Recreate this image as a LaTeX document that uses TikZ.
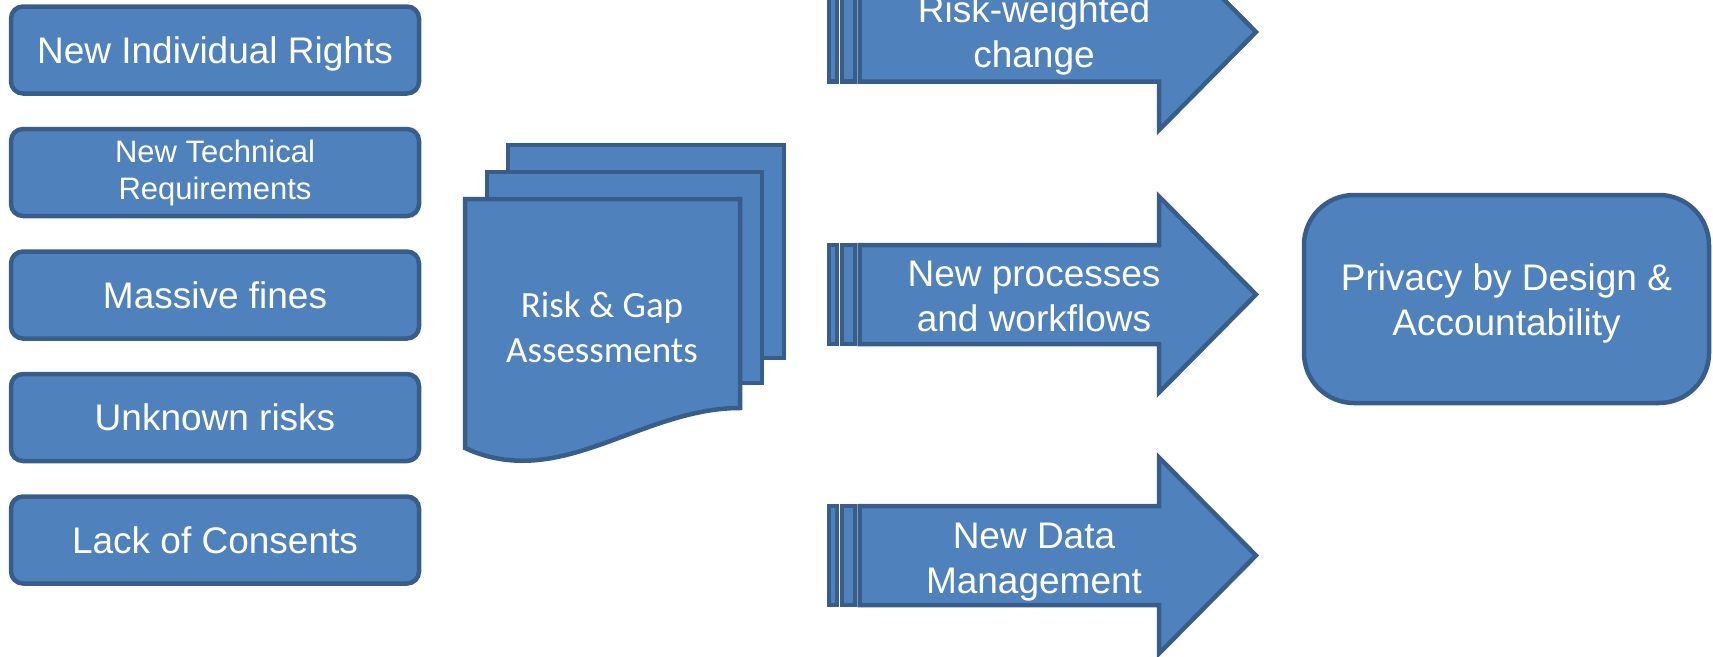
\documentclass[tikz,border=0pt]{standalone}
\usepackage{fontspec}
\setmainfont{Liberation Sans}
\newfontfamily\calibrifont{Carlito}
\definecolor{fillb}{HTML}{4F81BD}
\definecolor{edgeb}{HTML}{385D8A}
\tikzset{
  shp/.style={draw=edgeb, fill=fillb, line width=4.5pt, line join=miter},
  lbl/.style={text=white, align=center, font=\fontsize{37}{45}\selectfont},
  sidebox/.style={shp, rounded corners=12pt, minimum width=408pt,
    minimum height=87pt, inner sep=0pt, lbl},
}
% striped right arrow: #1 label node name, #2 centre y, #3 text, #4 text y offset
\newcommand{\StripedArrowShape}[4]{%
  \draw[shp] (829,{#2-49.5}) rectangle (837,{#2+49.5});
  \draw[shp] (842,{#2-49.5}) rectangle (855,{#2+49.5});
  \draw[shp] (859.5,{#2-49.5}) -- (1159,{#2-49.5}) -- (1159,{#2-98})
    -- (1256,{#2}) -- (1159,{#2+98}) -- (1159,{#2+49.5})
    -- (859.5,{#2+49.5}) -- cycle;
  \node[lbl] (#1) at (1034,{#2+#4}) {#3};
}
\begin{document}
\begin{tikzpicture}[x=1pt,y=-1pt]
\useasboundingbox (0,0) rectangle (1713,656);
\clip (0,0) rectangle (1713,656);

% driving factors
\node[sidebox, text depth=0pt] (n1) at (215,50) {New Individual Rights};
\node[sidebox, font=\fontsize{31}{37}\selectfont] (n2) at (215,172.5)
  {New Technical\\Requirements};
\node[sidebox] (n3) at (215,295)   {Massive fines};
\node[sidebox] (n4) at (215,417.5) {Unknown risks};
\node[sidebox] (n5) at (215,540)   {Lack of Consents};

% stack of assessment documents
\draw[shp] (508,145) rectangle (784,358);
\draw[shp] (487,172) rectangle (762,383);
\draw[shp] (465,199) -- (740,199) -- (740,408)
  .. controls (640,408) and (560,492) .. (465,448) -- cycle;
\node[text=white, align=center, font=\calibrifont\fontsize{37}{45}\selectfont]
  (doc) at (602,327) {Risk \& Gap\\Assessments};

% change streams
\StripedArrowShape{a1}{32}{Risk-weighted\\change}{3}
\StripedArrowShape{a2}{294.5}{New processes\\and workflows}{2}
\StripedArrowShape{a3}{555.5}{New Data\\Management}{7}

% outcome
\node[shp, rounded corners=50pt, minimum width=405pt, minimum height=208pt,
  inner sep=0pt] (pbd) at (1506.5,299) {};
\node[lbl] (pbdtext) at ([yshift=-4pt]pbd.center)
  {Privacy by Design \&\\Accountability};
\end{tikzpicture}
\end{document}
